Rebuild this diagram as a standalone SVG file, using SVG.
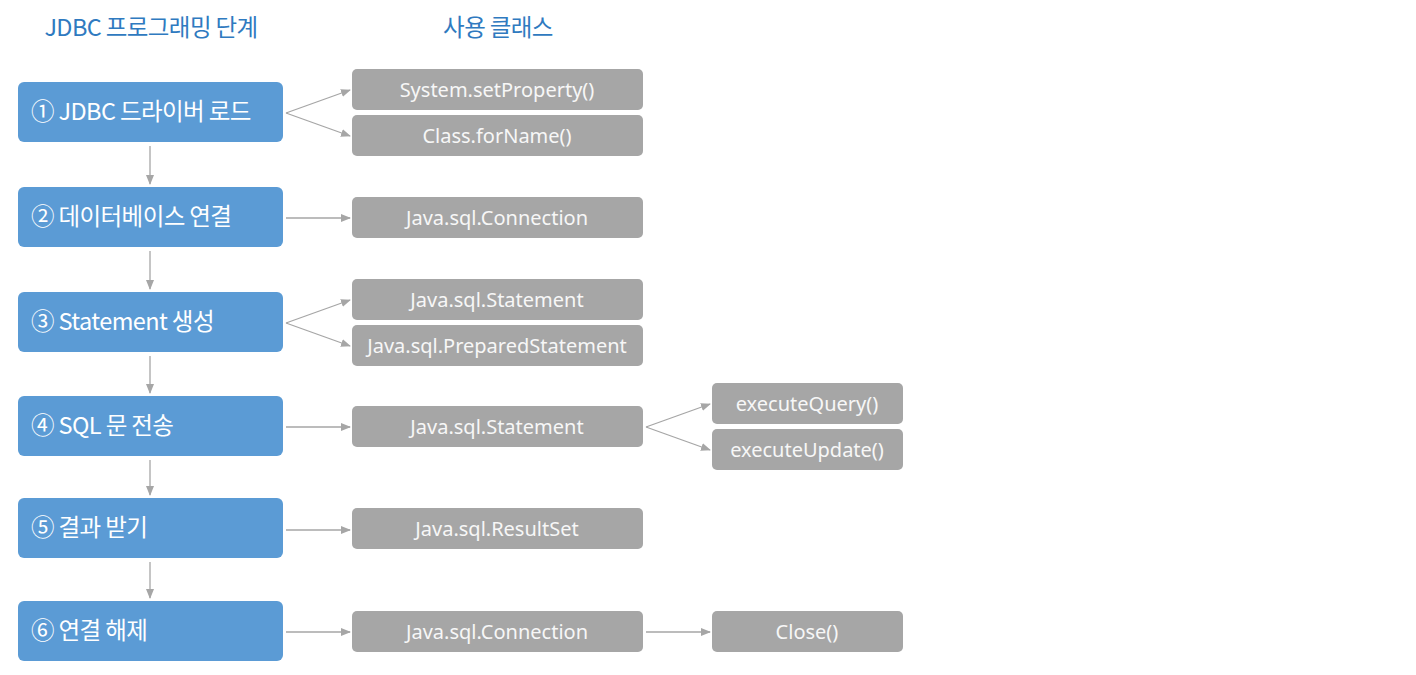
<svg xmlns="http://www.w3.org/2000/svg" width="1416" height="675" viewBox="0 0 1416 675">
<defs>
<marker id="ah" markerWidth="10" markerHeight="8" refX="9" refY="4" orient="auto" markerUnits="userSpaceOnUse">
<path d="M0,0 L10,4 L0,8 Z" fill="#a6a6a6"/>
</marker>
<style>
.step{fill:#5b9bd5;}
.cls{fill:#a6a6a6;}
.st{font-family:"Noto Sans CJK KR","Noto Sans",sans-serif;font-size:23.5px;fill:#ffffff;letter-spacing:-0.6px;}
.ct{font-family:"Noto Sans","Noto Sans CJK KR",sans-serif;font-size:20px;fill:#f7f7f7;text-anchor:middle;}
.title{font-family:"Noto Sans CJK KR",sans-serif;font-size:23.5px;fill:#2f7ac0;text-anchor:middle;letter-spacing:-0.6px;}
.c{stroke:#a6a6a6;stroke-width:1.3;fill:none;marker-end:url(#ah);}
</style>
</defs>
<rect width="1416" height="675" fill="#ffffff"/>
<g id="titles">
<text class="title" x="151" y="36">JDBC 프로그래밍 단계</text>
<text class="title" x="498" y="36">사용 클래스</text>
</g>
<g id="step1"><rect class="step" x="18" y="82" width="265" height="60" rx="6"/><text class="st" x="31" y="120">① JDBC 드라이버 로드</text></g>
<g id="step2"><rect class="step" x="18" y="187" width="265" height="60" rx="6"/><text class="st" x="31" y="225">② 데이터베이스 연결</text></g>
<g id="step3"><rect class="step" x="18" y="292" width="265" height="60" rx="6"/><text class="st" x="31" y="330">③ Statement 생성</text></g>
<g id="step4"><rect class="step" x="18" y="396" width="265" height="60" rx="6"/><text class="st" x="31" y="434">④ SQL 문 전송</text></g>
<g id="step5"><rect class="step" x="18" y="498" width="265" height="60" rx="6"/><text class="st" x="31" y="536">⑤ 결과 받기</text></g>
<g id="step6"><rect class="step" x="18" y="601" width="265" height="60" rx="6"/><text class="st" x="31" y="639">⑥ 연결 해제</text></g>
<g id="c1a"><rect class="cls" x="352" y="69" width="291" height="41" rx="5"/><text class="ct" x="497" y="97">System.setProperty()</text></g>
<g id="c1b"><rect class="cls" x="352" y="115" width="291" height="41" rx="5"/><text class="ct" x="497" y="143">Class.forName()</text></g>
<g id="c2"><rect class="cls" x="352" y="197" width="291" height="41" rx="5"/><text class="ct" x="497" y="225">Java.sql.Connection</text></g>
<g id="c3a"><rect class="cls" x="352" y="279" width="291" height="41" rx="5"/><text class="ct" x="497" y="307">Java.sql.Statement</text></g>
<g id="c3b"><rect class="cls" x="352" y="325" width="291" height="41" rx="5"/><text class="ct" x="497" y="353">Java.sql.PreparedStatement</text></g>
<g id="c4"><rect class="cls" x="352" y="406" width="291" height="41" rx="5"/><text class="ct" x="497" y="434">Java.sql.Statement</text></g>
<g id="c4a"><rect class="cls" x="712" y="383" width="191" height="41" rx="5"/><text class="ct" x="807" y="411">executeQuery()</text></g>
<g id="c4b"><rect class="cls" x="712" y="429" width="191" height="41" rx="5"/><text class="ct" x="807" y="457">executeUpdate()</text></g>
<g id="c5"><rect class="cls" x="352" y="508" width="291" height="41" rx="5"/><text class="ct" x="497" y="536">Java.sql.ResultSet</text></g>
<g id="c6"><rect class="cls" x="352" y="611" width="291" height="41" rx="5"/><text class="ct" x="497" y="639">Java.sql.Connection</text></g>
<g id="c6a"><rect class="cls" x="712" y="611" width="191" height="41" rx="5"/><text class="ct" x="807" y="639">Close()</text></g>
<g id="connectors">
<line class="c" x1="150" y1="146" x2="150" y2="184"/>
<line class="c" x1="150" y1="251" x2="150" y2="289"/>
<line class="c" x1="150" y1="356" x2="150" y2="393"/>
<line class="c" x1="150" y1="460" x2="150" y2="495"/>
<line class="c" x1="150" y1="562" x2="150" y2="598"/>
<line class="c" x1="286" y1="113" x2="350" y2="90"/>
<line class="c" x1="286" y1="113" x2="350" y2="136"/>
<line class="c" x1="286" y1="218" x2="350" y2="218"/>
<line class="c" x1="286" y1="323" x2="350" y2="300"/>
<line class="c" x1="286" y1="323" x2="350" y2="346"/>
<line class="c" x1="286" y1="427" x2="350" y2="427"/>
<line class="c" x1="646" y1="427" x2="710" y2="404"/>
<line class="c" x1="646" y1="427" x2="710" y2="450"/>
<line class="c" x1="286" y1="530" x2="350" y2="530"/>
<line class="c" x1="286" y1="632" x2="350" y2="632"/>
<line class="c" x1="646" y1="632" x2="710" y2="632"/>
</g>
</svg>
